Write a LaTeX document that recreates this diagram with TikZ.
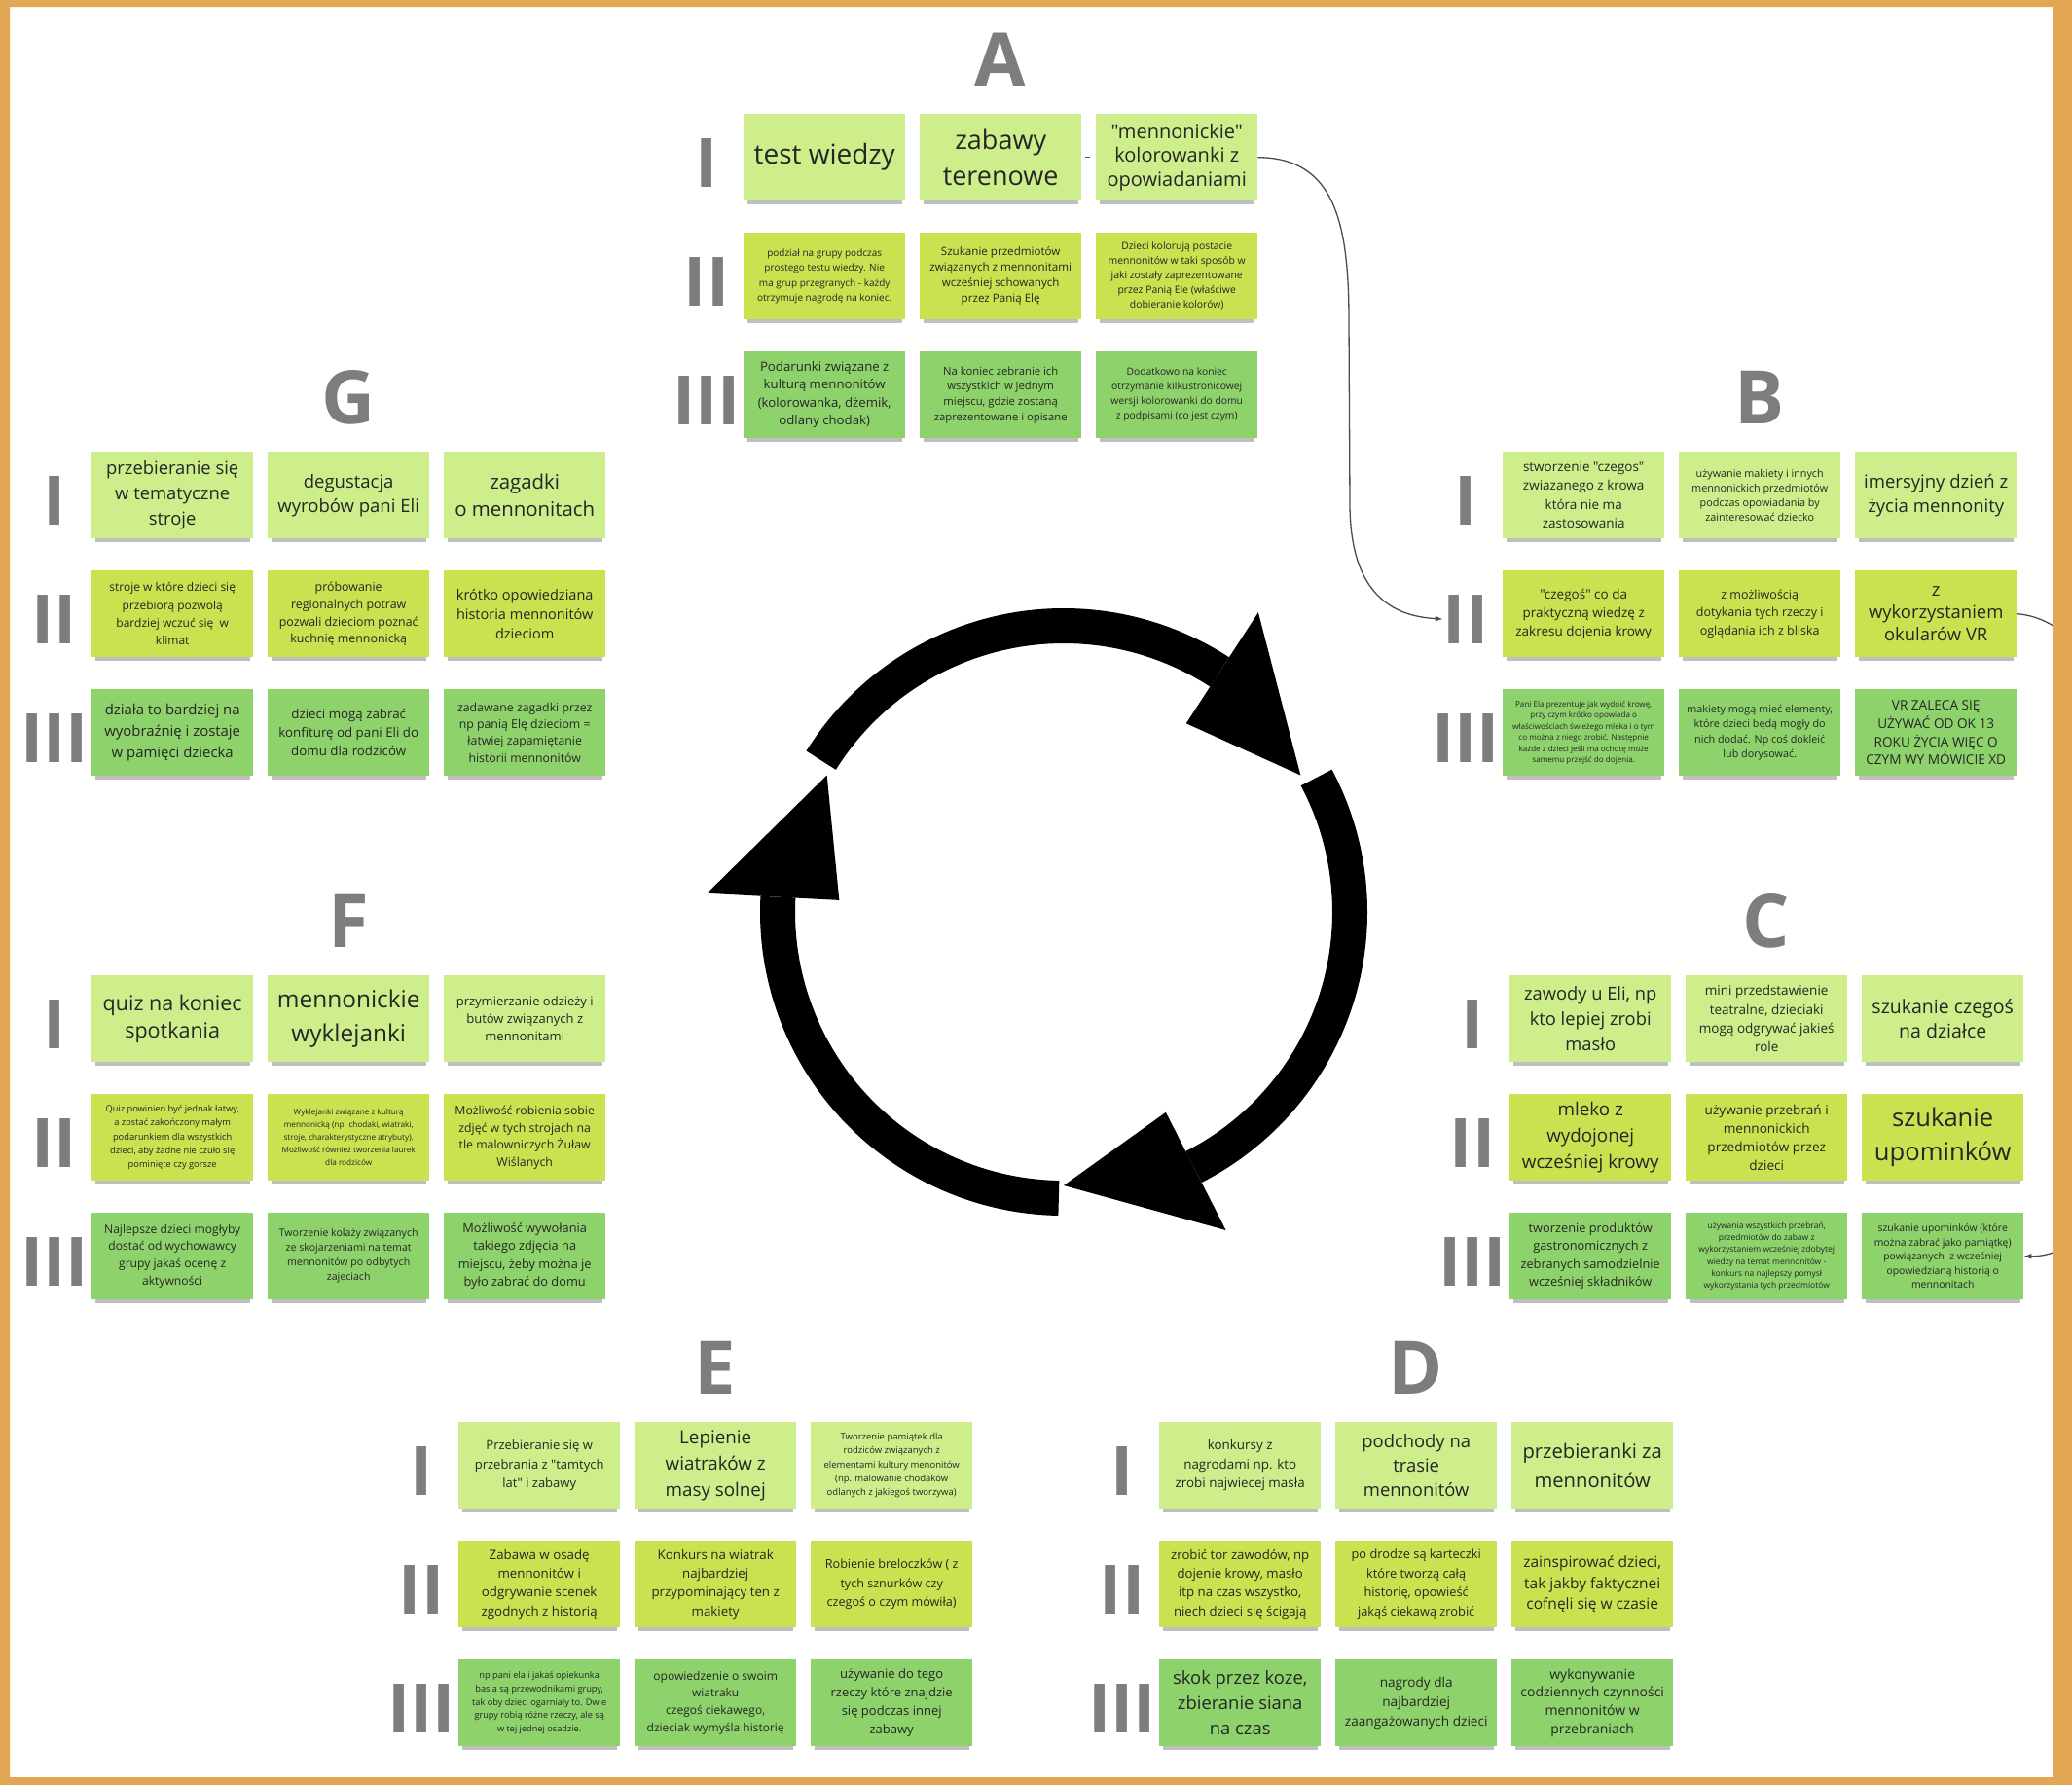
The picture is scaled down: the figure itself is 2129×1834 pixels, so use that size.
\documentclass[tikz,border=0pt]{standalone}
\usepackage{fontspec}
\setmainfont{Open Sans}[Ligatures=TeXOff]
\usetikzlibrary{arrows.meta, positioning, calc, shadows}
\definecolor{myorange}{RGB}{226,166,84}
\definecolor{mygray}{RGB}{125,125,125}
\definecolor{mytext}{RGB}{38,38,38}
\definecolor{greenI}{RGB}{205,238,138}
\definecolor{greenII}{RGB}{200,226,80}
\definecolor{greenIII}{RGB}{142,210,108}
\newcommand{\notefont}[2]{\fontsize{#1}{#2}\selectfont}

\begin{document}
\begin{tikzpicture}[x=1pt, y=-1pt,
    note/.style={anchor=north west, minimum width=166pt, minimum height=89pt, inner sep=1pt, align=center, text=mytext,
        drop shadow={shadow xshift=0pt, shadow yshift=-6pt, shadow scale=0.96, opacity=0.5}},
    noteI/.style={note, fill=greenI},
    noteII/.style={note, fill=greenII},
    noteIII/.style={note, fill=greenIII},
    numeral/.style={anchor=base, inner sep=0pt, text=mygray, font=\fontsize{70}{70}\selectfont\bfseries},
    grpletter/.style={anchor=base, inner sep=0pt, text=mygray, font=\fontsize{76}{76}\selectfont\bfseries},
    cyc/.style={line width=36pt},
    link/.style={draw=black!70, line width=1.3pt}]
        \useasboundingbox (0,0) rectangle (2129,1834);
        \fill[white] (0,0) rectangle (2129,1834);

        \coordinate[] (A) at (764,117);
        \coordinate[] (B) at (1544,464);
        \coordinate[] (C) at (1551,1002);
        \coordinate[] (D) at (1191,1461);
        \coordinate[] (E) at (471,1461);
        \coordinate[] (F) at (94,1002);
        \coordinate[] (G) at (94,464);

        \begin{scope}[shift={(1093,937)}, x=1pt, y=1pt]
            \draw[cyc] (148:294) arc[start angle=148, end angle=57, radius=294];
            \fill[black] (57:231) -- (57:367) -- (30:281) -- cycle;
            \draw[cyc] (28:294) arc[start angle=28, end angle=-63, radius=294];
            \fill[black] (-63:231) -- (-63:367) -- (-90:281) -- cycle;
            \draw[cyc] (-91:294) arc[start angle=-91, end angle=-183, radius=294];
            \fill[black] (177:231) -- (177:367) -- (150:281) -- cycle;
        \end{scope}

        % A
        \node[grpletter] (A-t) at ($(A)+(264,-29)$) {A};
        \node[numeral] (A-n1) at ($(A)+(-38,75)$) {I};
        \node[numeral] (A-n2) at ($(A)+(-38,197)$) {II};
        \node[numeral] (A-n3) at ($(A)+(-38,319)$) {III};
        \node[noteI, font=\notefont{28}{37}] (A-1-1) at ($(A)+(0,0)$) {test wiedzy};
        \node[noteI, font=\notefont{27}{37}] (A-1-2) at ($(A)+(181,0)$) {zabawy\\terenowe};
        \node[noteI, font=\notefont{20}{24.5}] (A-1-3) at ($(A)+(362,0)$) {"mennonickie"\\kolorowanki z\\opowiadaniami};
        \node[noteII, font=\notefont{10}{15.5}] (A-2-1) at ($(A)+(0,122)$) {podział na grupy podczas\\prostego testu wiedzy. Nie\\ma grup przegranych - każdy\\otrzymuje nagrodę na koniec.};
        \node[noteII, font=\notefont{11.6}{16}] (A-2-2) at ($(A)+(181,122)$) {Szukanie przedmiotów\\związanych z mennonitami\\wcześniej schowanych\\przez Panią Elę};
        \node[noteII, font=\notefont{10.4}{15}] (A-2-3) at ($(A)+(362,122)$) {Dzieci kolorują postacie\\mennonitów w taki sposób w\\jaki zostały zaprezentowane\\przez Panią Ele (właściwe\\dobieranie kolorów)};
        \node[noteIII, font=\notefont{13.2}{18.3}] (A-3-1) at ($(A)+(0,244)$) {Podarunki związane z\\kulturą mennonitów\\(kolorowanka, dżemik,\\odlany chodak)};
        \node[noteIII, font=\notefont{11.3}{15.6}] (A-3-2) at ($(A)+(181,244)$) {Na koniec zebranie ich\\wszystkich w jednym\\miejscu, gdzie zostaną\\zaprezentowane i opisane};
        \node[noteIII, font=\notefont{10.3}{15}] (A-3-3) at ($(A)+(362,244)$) {Dodatkowo na koniec\\otrzymanie kilkustronicowej\\wersji kolorowanki do domu\\z podpisami (co jest czym)};

        % B
        \node[grpletter] (B-t) at ($(B)+(264,-29)$) {B};
        \node[numeral] (B-n1) at ($(B)+(-38,75)$) {I};
        \node[numeral] (B-n2) at ($(B)+(-38,197)$) {II};
        \node[numeral] (B-n3) at ($(B)+(-38,319)$) {III};
        \node[noteI, font=\notefont{13.5}{19.4}] (B-1-1) at ($(B)+(0,0)$) {stworzenie "czegos"\\zwiazanego z krowa\\która nie ma\\zastosowania};
        \node[noteI, font=\notefont{10.8}{15}] (B-1-2) at ($(B)+(181,0)$) {używanie makiety i innych\\mennonickich przedmiotów\\podczas opowiadania by\\zainteresować dziecko};
        \node[noteI, font=\notefont{18.5}{25}] (B-1-3) at ($(B)+(362,0)$) {imersyjny dzień z\\życia mennonity};
        \node[noteII, font=\notefont{13.5}{19.2}] (B-2-1) at ($(B)+(0,122)$) {"czegoś" co da\\praktyczną wiedzę z\\zakresu dojenia krowy};
        \node[noteII, font=\notefont{12.5}{18.3}] (B-2-2) at ($(B)+(181,122)$) {z możliwością\\dotykania tych rzeczy i\\oglądania ich z bliska};
        \node[noteII, font=\notefont{18.4}{23.3}] (B-2-3) at ($(B)+(362,122)$) {z\\wykorzystaniem\\okularów VR};
        \node[noteIII, font=\notefont{8.1}{11.5}] (B-3-1) at ($(B)+(0,244)$) {Pani Ela prezentuje jak wydoić krowę,\\przy czym krótko opowiada o\\właściwościach świeżego mleka i o tym\\co można z niego zrobić. Następnie\\każde z dzieci jeśli ma ochotę może\\samemu przejść do dojenia.};
        \node[noteIII, font=\notefont{10.8}{15.6}] (B-3-2) at ($(B)+(181,244)$) {makiety mogą mieć elementy,\\które dzieci będą mogły do\\nich dodać. Np coś dokleić\\lub dorysować.};
        \node[noteIII, font=\notefont{13.6}{18.9}] (B-3-3) at ($(B)+(362,244)$) {VR ZALECA SIĘ\\UŻYWAĆ OD OK 13\\ROKU ŻYCIA WIĘC O\\CZYM WY MÓWICIE XD};

        % C
        \node[grpletter] (C-t) at ($(C)+(264,-29)$) {C};
        \node[numeral] (C-n1) at ($(C)+(-38,75)$) {I};
        \node[numeral] (C-n2) at ($(C)+(-38,197)$) {II};
        \node[numeral] (C-n3) at ($(C)+(-38,319)$) {III};
        \node[noteI, font=\notefont{18.3}{25.8}] (C-1-1) at ($(C)+(0,0)$) {zawody u Eli, np\\kto lepiej zrobi\\masło};
        \node[noteI, font=\notefont{13.5}{19.4}] (C-1-2) at ($(C)+(181,0)$) {mini przedstawienie\\teatralne, dzieciaki\\mogą odgrywać jakieś\\role};
        \node[noteI, font=\notefont{19.5}{25}] (C-1-3) at ($(C)+(362,0)$) {szukanie czegoś\\na działce};
        \node[noteII, font=\notefont{18.8}{26.7}] (C-2-1) at ($(C)+(0,122)$) {mleko z\\wydojonej\\wcześniej krowy};
        \node[noteII, font=\notefont{13.6}{18.9}] (C-2-2) at ($(C)+(181,122)$) {używanie przebrań i\\mennonickich\\przedmiotów przez\\dzieci};
        \node[noteII, font=\notefont{25.6}{35}] (C-2-3) at ($(C)+(362,122)$) {szukanie\\upominków};
        \node[noteIII, font=\notefont{12.8}{18.3}] (C-3-1) at ($(C)+(0,244)$) {tworzenie produktów\\gastronomicznych z\\zebranych samodzielnie\\wcześniej składników};
        \node[noteIII, font=\notefont{8.5}{12.3}] (C-3-2) at ($(C)+(181,244)$) {używania wszystkich przebrań,\\przedmiotów do zabaw z\\wykorzystaniem wcześniej zdobytej\\wiedzy na temat mennonitów -\\konkurs na najlepszy pomysł\\wykorzystania tych przedmiotów};
        \node[noteIII, font=\notefont{10.4}{14.6}] (C-3-3) at ($(C)+(362,244)$) {szukanie upominków (które\\można zabrać jako pamiątkę)\\powiązanych\ \ z wcześniej\\opowiedzianą historią o\\mennonitach};

        % D
        \node[grpletter] (D-t) at ($(D)+(264,-29)$) {D};
        \node[numeral] (D-n1) at ($(D)+(-38,75)$) {I};
        \node[numeral] (D-n2) at ($(D)+(-38,197)$) {II};
        \node[numeral] (D-n3) at ($(D)+(-38,319)$) {III};
        \node[noteI, font=\notefont{13.4}{19.2}] (D-1-1) at ($(D)+(0,0)$) {konkursy z\\nagrodami np. kto\\zrobi najwiecej masła};
        \node[noteI, font=\notefont{18.4}{25}] (D-1-2) at ($(D)+(181,0)$) {podchody na\\trasie\\mennonitów};
        \node[noteI, font=\notefont{20.2}{30}] (D-1-3) at ($(D)+(362,0)$) {przebieranki za\\mennonitów};
        \node[noteII, font=\notefont{13.2}{19.4}] (D-2-1) at ($(D)+(0,122)$) {zrobić tor zawodów, np\\dojenie krowy, masło\\itp na czas wszystko,\\niech dzieci się ścigają};
        \node[noteII, font=\notefont{12.8}{19.4}] (D-2-2) at ($(D)+(181,122)$) {po drodze są karteczki\\które tworzą całą\\historię, opowieść\\jakąś ciekawą zrobić};
        \node[noteII, font=\notefont{15.5}{21.7}] (D-2-3) at ($(D)+(362,122)$) {zainspirować dzieci,\\tak jakby faktycznei\\cofnęli się w czasie};
        \node[noteIII, font=\notefont{18.4}{25.8}] (D-3-1) at ($(D)+(0,244)$) {skok przez koze,\\zbieranie siana\\na czas};
        \node[noteIII, font=\notefont{13.6}{20}] (D-3-2) at ($(D)+(181,244)$) {nagrody dla\\najbardziej\\zaangażowanych dzieci};
        \node[noteIII, font=\notefont{14}{18.9}] (D-3-3) at ($(D)+(362,244)$) {wykonywanie\\codziennych czynności\\mennonitów w\\przebraniach};

        % E
        \node[grpletter] (E-t) at ($(E)+(264,-29)$) {E};
        \node[numeral] (E-n1) at ($(E)+(-38,75)$) {I};
        \node[numeral] (E-n2) at ($(E)+(-38,197)$) {II};
        \node[numeral] (E-n3) at ($(E)+(-38,319)$) {III};
        \node[noteI, font=\notefont{13}{19.2}] (E-1-1) at ($(E)+(0,0)$) {Przebieranie się w\\przebrania z "tamtych\\lat" i zabawy};
        \node[noteI, font=\notefont{18.8}{26.7}] (E-1-2) at ($(E)+(181,0)$) {Lepienie\\wiatraków z\\masy solnej};
        \node[noteI, font=\notefont{9.5}{14.2}] (E-1-3) at ($(E)+(362,0)$) {Tworzenie pamiątek dla\\rodziców związanych z\\elementami kultury menonitów\\(np. malowanie chodaków\\odlanych z jakiegoś tworzywa)};
        \node[noteII, font=\notefont{13.3}{19.4}] (E-2-1) at ($(E)+(0,122)$) {Zabawa w osadę\\mennonitów i\\odgrywanie scenek\\zgodnych z historią};
        \node[noteII, font=\notefont{13.3}{19.4}] (E-2-2) at ($(E)+(181,122)$) {Konkurs na wiatrak\\najbardziej\\przypominający ten z\\makiety};
        \node[noteII, font=\notefont{12.6}{19.2}] (E-2-3) at ($(E)+(362,122)$) {Robienie breloczków ( z\\tych sznurków czy\\czegoś o czym mówiła)};
        \node[noteIII, font=\notefont{9.2}{13.7}] (E-3-1) at ($(E)+(0,244)$) {np pani ela i jakaś opiekunka\\basia są przewodnikami grupy,\\tak oby dzieci ogarniały to. Dwie\\grupy robią różne rzeczy, ale są\\w tej jednej osadzie.};
        \node[noteIII, font=\notefont{12}{17.8}] (E-3-2) at ($(E)+(181,244)$) {opowiedzenie o swoim\\wiatraku\\czegoś ciekawego,\\dzieciak wymyśla historię};
        \node[noteIII, font=\notefont{13}{18.9}] (E-3-3) at ($(E)+(362,244)$) {używanie do tego\\rzeczy które znajdzie\\się podczas innej\\zabawy};

        % F
        \node[grpletter] (F-t) at ($(F)+(264,-29)$) {F};
        \node[numeral] (F-n1) at ($(F)+(-38,75)$) {I};
        \node[numeral] (F-n2) at ($(F)+(-38,197)$) {II};
        \node[numeral] (F-n3) at ($(F)+(-38,319)$) {III};
        \node[noteI, font=\notefont{21.5}{28.3}] (F-1-1) at ($(F)+(0,0)$) {quiz na koniec\\spotkania};
        \node[noteI, font=\notefont{24.4}{35}] (F-1-2) at ($(F)+(181,0)$) {mennonickie\\wyklejanki};
        \node[noteI, font=\notefont{13}{18.3}] (F-1-3) at ($(F)+(362,0)$) {przymierzanie odzieży i\\butów związanych z\\mennonitami};
        \node[noteII, font=\notefont{9.3}{14.2}] (F-2-1) at ($(F)+(0,122)$) {Quiz powinien być jednak łatwy,\\a zostać zakończony małym\\podarunkiem dla wszystkich\\dzieci, aby żadne nie czuło się\\pominięte czy gorsze};
        \node[noteII, font=\notefont{8.2}{12.9}] (F-2-2) at ($(F)+(181,122)$) {Wyklejanki związane z kulturą\\mennonicką (np. chodaki, wiatraki,\\stroje, charakterystyczne atrybuty).\\Możliwość również tworzenia laurek\\dla rodziców};
        \node[noteII, font=\notefont{12.3}{17.8}] (F-2-3) at ($(F)+(362,122)$) {Możliwość robienia sobie\\zdjęć w tych strojach na\\tle malowniczych Żuław\\Wiślanych};
        \node[noteIII, font=\notefont{12.1}{17.8}] (F-3-1) at ($(F)+(0,244)$) {Najlepsze dzieci mogłyby\\dostać od wychowawcy\\grupy jakaś ocenę z\\aktywności};
        \node[noteIII, font=\notefont{10.6}{15}] (F-3-2) at ($(F)+(181,244)$) {Tworzenie kolaży związanych\\ze skojarzeniami na temat\\mennonitów po odbytych\\zajeciach};
        \node[noteIII, font=\notefont{12.8}{18.3}] (F-3-3) at ($(F)+(362,244)$) {Możliwość wywołania\\takiego zdjęcia na\\miejscu, żeby można je\\było zabrać do domu};

        % G
        \node[grpletter] (G-t) at ($(G)+(264,-29)$) {G};
        \node[numeral] (G-n1) at ($(G)+(-38,75)$) {I};
        \node[numeral] (G-n2) at ($(G)+(-38,197)$) {II};
        \node[numeral] (G-n3) at ($(G)+(-38,319)$) {III};
        \node[noteI, font=\notefont{18.4}{25.8}] (G-1-1) at ($(G)+(0,0)$) {przebieranie się\\w tematyczne\\stroje};
        \node[noteI, font=\notefont{18.5}{25}] (G-1-2) at ($(G)+(181,0)$) {degustacja\\wyrobów pani Eli};
        \node[noteI, font=\notefont{20.4}{28.3}] (G-1-3) at ($(G)+(362,0)$) {zagadki\\o mennonitach};
        \node[noteII, font=\notefont{12}{18.3}] (G-2-1) at ($(G)+(0,122)$) {stroje w które dzieci się\\przebiorą pozwolą\\bardziej wczuć się\ \ w\\klimat};
        \node[noteII, font=\notefont{12.4}{17.8}] (G-2-2) at ($(G)+(181,122)$) {próbowanie\\regionalnych potraw\\pozwali dzieciom poznać\\kuchnię mennonicką};
        \node[noteII, font=\notefont{14.5}{20}] (G-2-3) at ($(G)+(362,122)$) {krótko opowiedziana\\historia mennonitów\\dzieciom};
        \node[noteIII, font=\notefont{14.9}{21.7}] (G-3-1) at ($(G)+(0,244)$) {działa to bardziej na\\wyobraźnię i zostaje\\w pamięci dziecka};
        \node[noteIII, font=\notefont{13.3}{19.2}] (G-3-2) at ($(G)+(181,244)$) {dzieci mogą zabrać\\konfiturę od pani Eli do\\domu dla rodziców};
        \node[noteIII, font=\notefont{12.3}{17.2}] (G-3-3) at ($(G)+(362,244)$) {zadawane zagadki przez\\np panią Elę dzieciom =\\łatwiej zapamiętanie\\historii mennonitów};

        \draw[link, shorten <=4pt, shorten >=6pt] (A-1-2.east) -- (A-1-3.west);
        \draw[link, -{Latex[length=8pt, width=6pt]}] (A-1-3.east) .. controls (1372,162) and (1386,230) .. (1386,330) -- (1387,520) .. controls (1388,610) and (1430,633) .. (B-n2.west);
        \draw[link, -{Latex[length=8pt, width=6pt]}] (B-2-3.east) .. controls (2260,645) and (2260,1292) .. (C-3-3.east);

        \fill[myorange, even odd rule] (0,0) rectangle (2129,1834) (10,7) rectangle (2109,1826);
\end{tikzpicture}
\end{document}
